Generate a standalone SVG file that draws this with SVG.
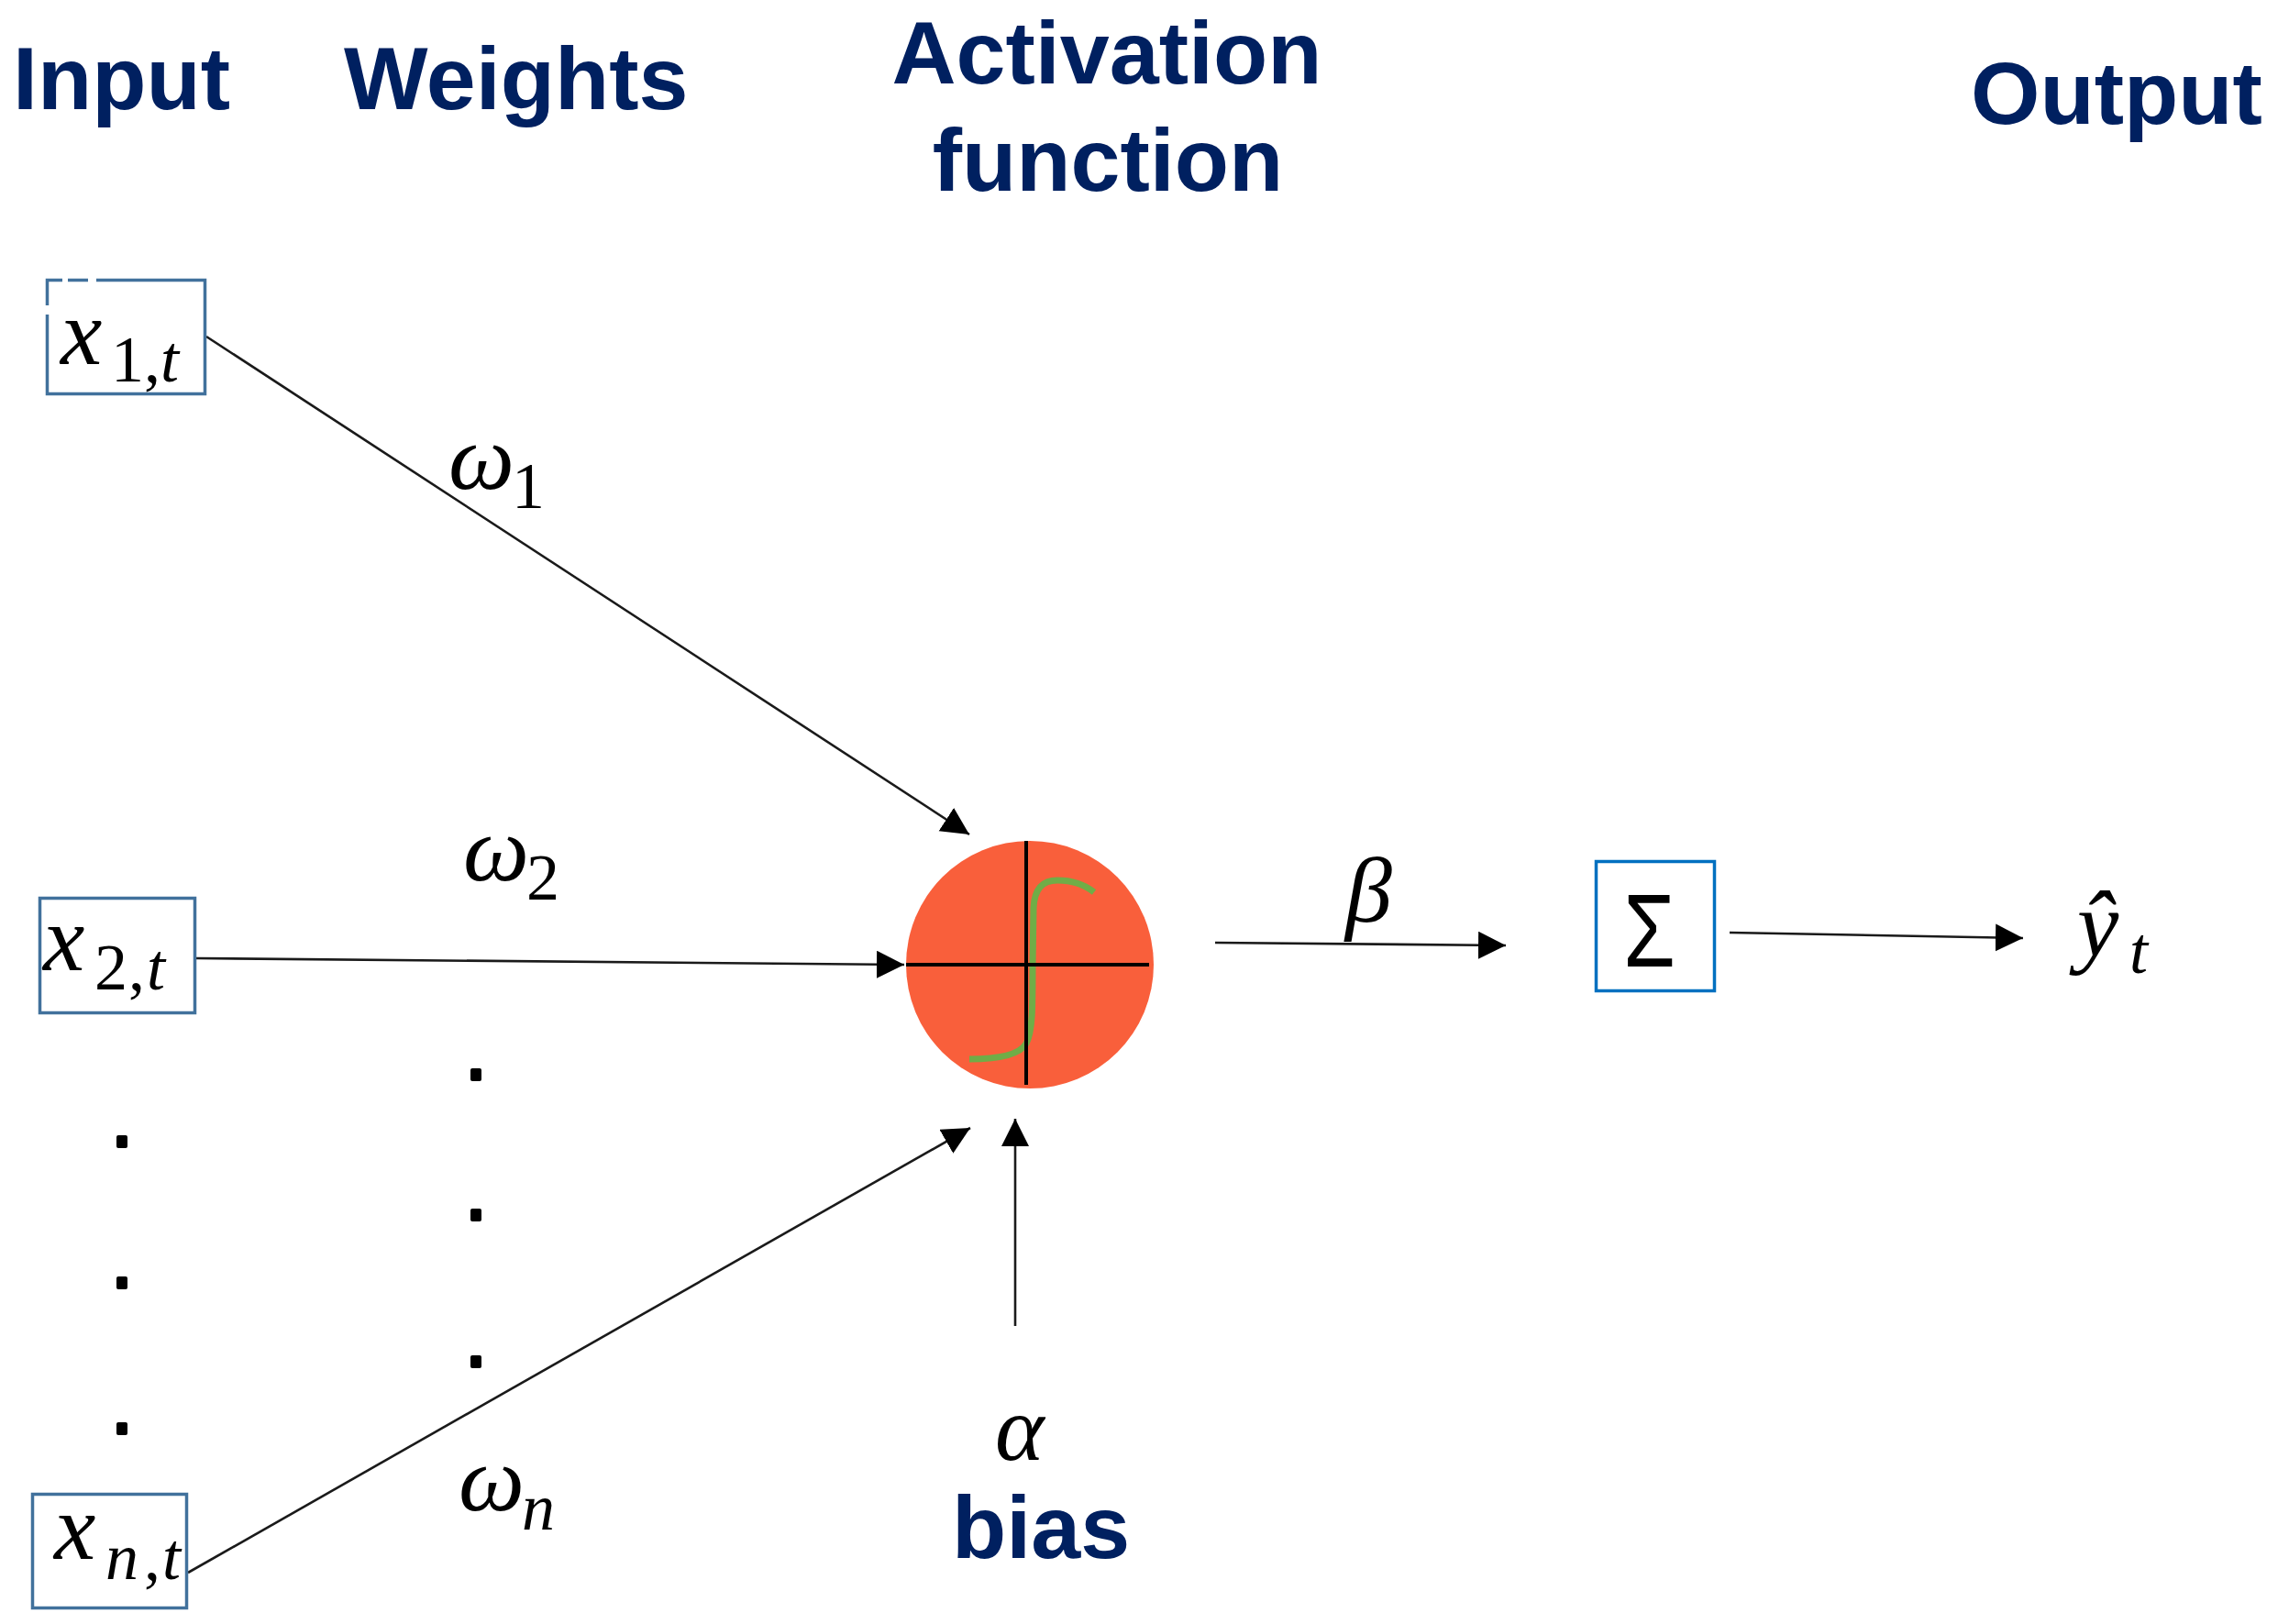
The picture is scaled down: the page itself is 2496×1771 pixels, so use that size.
<svg xmlns="http://www.w3.org/2000/svg" width="2496" height="1771" viewBox="0 0 2496 1771">
<defs>
<style>
.hd{font-family:"Liberation Sans",Arial,sans-serif;font-weight:bold;font-size:97px;fill:#002060}
.m{font-family:"Liberation Serif","DejaVu Serif",serif;font-style:italic;font-size:102px;fill:#000}
.s{font-family:"Liberation Serif","DejaVu Serif",serif;font-size:72px;fill:#000}
.si{font-style:italic}
.box1{fill:#fff;stroke:#41719C;stroke-width:3.5}
.box2{fill:#fff;stroke:#0070C0;stroke-width:3.5}
.conn{stroke:#1a1a1a;stroke-width:2.6;fill:none;marker-end:url(#ah)}
.dot{fill:#000}
</style>
<marker id="ah" markerUnits="userSpaceOnUse" markerWidth="32" markerHeight="32" refX="30" refY="15" orient="auto" viewBox="0 0 32 32">
<path d="M0,0 L30,15 L0,30 z" fill="#000"/>
</marker>
</defs>
<rect width="2496" height="1771" fill="#fff"/>

<g id="headings">
<text class="hd" x="14" y="119">Input</text>
<text class="hd" x="375" y="119">Weights</text>
<text class="hd" x="1207" y="91" text-anchor="middle">Activation</text>
<text class="hd" x="1208" y="208" text-anchor="middle">function</text>
<text class="hd" x="2149" y="135">Output</text>
</g>

<g id="connectors">
<line class="conn" x1="225" y1="367" x2="1057" y2="910"/>
<line class="conn" x1="214" y1="1045" x2="986" y2="1052"/>
<line class="conn" x1="205" y1="1715" x2="1058" y2="1230"/>
<line class="conn" x1="1107" y1="1446" x2="1107" y2="1220"/>
<line class="conn" x1="1325" y1="1028" x2="1642" y2="1031"/>
<line class="conn" x1="1886" y1="1017" x2="2206" y2="1023"/>
</g>

<g id="node-x1">
<rect class="box1" x="51.5" y="305.5" width="172" height="124"/>
<rect x="68" y="302" width="6" height="7" fill="#fff"/>
<rect x="96" y="302" width="9" height="7" fill="#fff"/>
<rect x="48" y="333" width="7" height="10" fill="#fff"/>
<text class="m" x="66" y="397">x</text>
<text class="s" y="416"><tspan x="121">1</tspan><tspan x="157">,</tspan><tspan class="si" x="175">t</tspan></text>
</g>

<g id="node-x2">
<rect class="box1" x="43.5" y="979.5" width="169" height="125"/>
<text class="m" x="47" y="1058">x</text>
<text class="s" y="1079"><tspan x="103">2</tspan><tspan x="140">,</tspan><tspan class="si" x="160">t</tspan></text>
</g>

<g id="node-xn">
<rect class="box1" x="35.5" y="1629.5" width="168" height="124"/>
<text class="m" x="59" y="1700">x</text>
<text class="s" y="1722"><tspan class="si" x="115">n</tspan><tspan x="157">,</tspan><tspan class="si" x="177">t</tspan></text>
</g>

<g id="input-dots">
<rect class="dot" x="127" y="1238" width="12" height="14" rx="2"/>
<rect class="dot" x="127" y="1392" width="12" height="14" rx="2"/>
<rect class="dot" x="127" y="1551" width="12" height="14" rx="2"/>
</g>

<g id="weights">
<text class="m" x="489" y="533">ω</text>
<text class="s" x="558" y="554">1</text>
<text class="m" x="505" y="960">ω</text>
<text class="s" x="574" y="981">2</text>
<text class="m" x="500" y="1647">ω</text>
<text class="s si" x="569" y="1668">n</text>
<rect class="dot" x="513" y="1165" width="12" height="14" rx="2"/>
<rect class="dot" x="513" y="1318" width="12" height="14" rx="2"/>
<rect class="dot" x="513" y="1478" width="12" height="14" rx="2"/>
</g>

<g id="node-activation">
<circle cx="1123" cy="1052" r="135" fill="#F95F3B"/>
<path d="M1057,1155 C1090,1155 1112,1150 1119,1138 C1126,1125 1126,1100 1126,1052 L1127,990 C1128,970 1136,960 1153,960 C1170,960 1183,965 1193,973" fill="none" stroke="#70AD47" stroke-width="7"/>
<line x1="1119" y1="917" x2="1119" y2="1183" stroke="#000" stroke-width="4"/>
<line x1="988" y1="1052" x2="1253" y2="1052" stroke="#000" stroke-width="4"/>
</g>

<g id="label-beta">
<text class="m" x="1467" y="1005">β</text>
</g>

<g id="node-sum">
<rect class="box2" x="1740.5" y="939.5" width="129" height="141"/>
<text x="0" y="0" transform="translate(1798.5,1054) scale(0.81,1)" text-anchor="middle" style="font-family:'Liberation Sans',Arial,sans-serif;font-size:113px;fill:#000">Σ</text>
</g>

<g id="node-output">
<text class="m" x="2265" y="1042">ŷ</text>
<text class="s si" x="2322" y="1061">t</text>
</g>

<g id="node-bias">
<text class="m" x="1085" y="1592">α</text>
<text class="hd" x="1038" y="1699">bias</text>
</g>
</svg>
